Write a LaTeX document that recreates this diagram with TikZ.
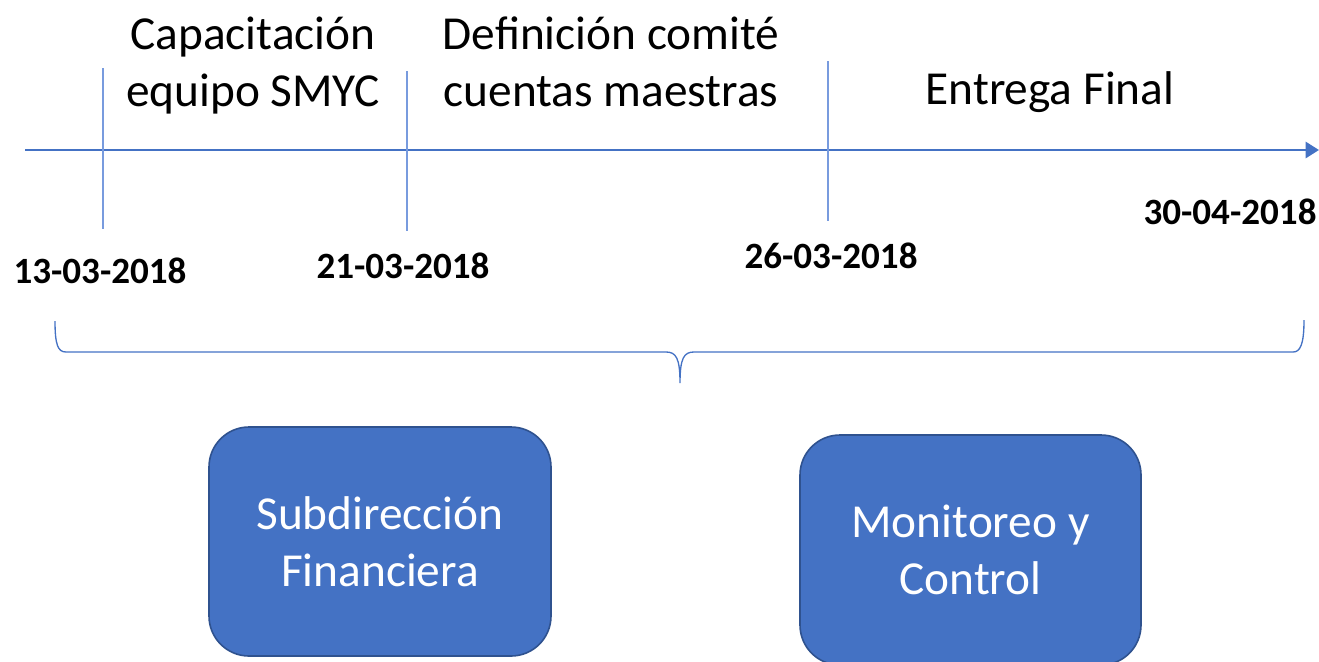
\documentclass[tikz,border=0pt]{standalone}
\usepackage{fontspec}
\setmainfont{Carlito}
\usetikzlibrary{arrows.meta}
\definecolor{axisblue}{RGB}{68,114,196}
\definecolor{tickblue}{RGB}{120,155,222}
\definecolor{boxedge}{RGB}{47,82,143}
\tikzset{
  lbl/.style={inner sep=0pt, align=center, font=\fontsize{35.5}{42.75}\selectfont},
  datelbl/.style={inner sep=0pt, font=\fontsize{27.8}{33}\selectfont\bfseries},
  tickline/.style={draw=tickblue, line width=1.2pt},
  unitbox/.style={draw=boxedge, line width=1.2pt, fill=axisblue, rounded corners=30pt,
    text=white, align=center, font=\fontsize{35.5}{42.75}\selectfont, inner sep=0pt},
}
\begin{document}
\begin{tikzpicture}[x=0.75pt,y=-0.75pt]
\useasboundingbox (0,0) rectangle (1319,661);
% axis
\coordinate (a0) at (25,150);
\coordinate (a1) at (1319,150);
\draw[axisblue, line width=2.1pt, -{Triangle[length=10pt,width=12pt]}] (a0) -- (a1);
% ticks
\coordinate (t1a) at (103,68);  \coordinate (t1b) at (103,229);
\coordinate (t2a) at (407,71);  \coordinate (t2b) at (407,231);
\coordinate (t3a) at (828,61);  \coordinate (t3b) at (828,221);
\draw[tickline] (t1a) -- (t1b);
\draw[tickline] (t2a) -- (t2b);
\draw[tickline] (t3a) -- (t3b);
% phase labels
\node[lbl] (p1) at (253,66) {Capacitación\\equipo SMYC};
\node[lbl] (p2) at (611,62) {Definición comité\\cuentas maestras};
\node[lbl] (p3) at (1050,92) {Entrega Final};
% dates
\node[datelbl] (d1) at (100,271) {13-03-2018};
\node[datelbl] (d2) at (403,266) {21-03-2018};
\node[datelbl] (d3) at (831,256) {26-03-2018};
\node[datelbl] (d4) at (1230,212) {30-04-2018};
% brace
\coordinate (bl) at (55,321);
\coordinate (bm) at (680,383);
\coordinate (br) at (1304,320);
\draw[axisblue, line width=1pt]
  (bl) .. controls (55,345) and (58,352) .. (66,352) -- (666,352)
  .. controls (676,352) and (680,358) .. (bm)
  .. controls (680,358) and (684,352) .. (694,352) -- (1293,352)
  .. controls (1300,352) and (1304,345) .. (br);
% boxes
\node[unitbox, minimum width=256.5pt, minimum height=171.75pt] (sf) at (380,541.5) {Subdirección\\Financiera};
\node[unitbox, minimum width=255.75pt, minimum height=172.5pt] (mc) at (970.5,550) {Monitoreo y\\Control};
\end{tikzpicture}
\end{document}
